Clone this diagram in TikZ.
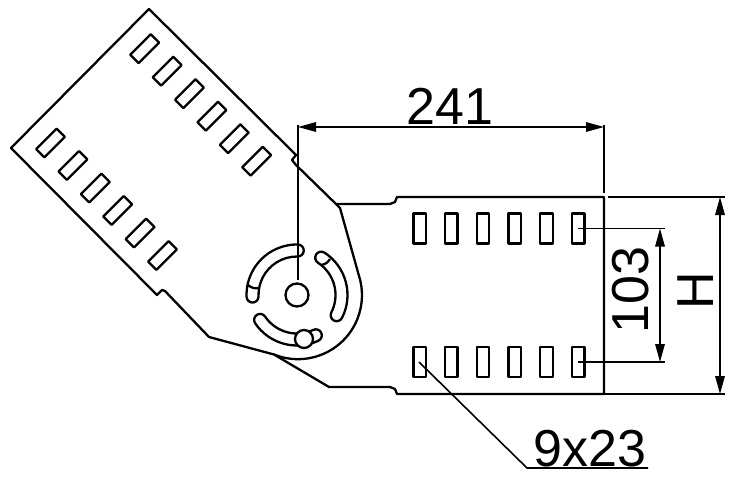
\documentclass[tikz,border=0pt]{standalone}
\usepackage{fontspec}
\setmainfont{Liberation Sans}
\usetikzlibrary{
    calc,
    arrows.meta
}
\tikzset{
    outline/.style={line width=2.3pt,line join=round},
    dimline/.style={line width=1.6pt},
    dimarrow/.style={dimline,{Triangle[length=18pt,width=9.5pt]}-{Triangle[length=18pt,width=9.5pt]}},
    dimtext/.style={font=\fontsize{52}{52}\selectfont,inner sep=0pt}
}
\newcommand{\arcslot}[2]{%
    \draw[outline] ($(hub)+(#1:50.5)$) arc (#1:#2:50.5) arc (#2:#2+180:6) arc (#2:#1:38.5) arc (#1+180:#1+360:6) -- cycle;}

\begin{document}
\begin{tikzpicture}[x=1pt,y=1pt]
        \useasboundingbox (0,0) rectangle (746,-497);
        \coordinate (hub) at (297,-295);

        % swivel plate
        \draw[outline] (149,-9) -- (11,-148) -- (157,-295) -- (162,-290) -- (165,-291) -- (209,-337) -- (274,-354.5)
            arc (248:378:64) -- (340,-208) -- (337,-205) -- (296,-165) -- (292,-160) -- (296,-155) -- cycle;
        \draw[outline] (337,-204) -- (390,-204) -- (395,-202) -- (397,-197) -- (604,-197) -- (604,-394)
            -- (397,-394) -- (395,-389) -- (390,-387) -- (329,-387) -- (274,-354.5);

        % slots
        \foreach \i in {0,...,5} {
            \draw[outline,shift={(144.7+22.4*\i,-48.7-22.5*\i)},rotate=-45] (-5.9,-14.5) rectangle (5.9,14.5);
            \draw[outline,shift={(50.5+22.4*\i,-143-22.5*\i)},rotate=-45] (-5.9,-14.5) rectangle (5.9,14.5);
            \draw[outline,shift={(419.7+31.7*\i,-228.5)}] (-6.2,-15) rectangle (6.2,15);
            \draw[outline,shift={(419.7+31.7*\i,-362)}] (-6.2,-15) rectangle (6.2,15);
        }

        \arcslot{89}{182}
        \arcslot{-27}{57}
        \arcslot{214}{295}
        \draw[outline] (248,-285) to[bend right=25] (259,-288);
        \draw[outline] (321,-265) to[bend right=25] (330,-259);

        \draw[outline] (hub) circle (11.5);
        \draw[outline,fill=white] (304,-339) circle (9);

        % dimensions
        \coordinate (wl) at (298,-125);
        \coordinate (wr) at (604,-125);
        \draw[dimline] (wl) -- (298,-280);
        \draw[dimline] (wr) -- (604,-193);
        \draw[dimarrow] (298,-127) -- (604,-127);
        \node[dimtext] (wlabel) at (450,-106) {241};

        \draw[dimline] (608,-197) -- (725,-197);
        \draw[dimline] (604,-394) -- (725,-394);
        \draw[dimarrow] (720,-197) -- (720,-394);
        \node[dimtext,rotate=90] (hlabel) at (696,-291) {H};

        \draw[dimline] (578,-228.5) -- (665,-228.5);
        \draw[dimline] (578,-362) -- (665,-362);
        \draw[dimarrow] (660,-228.5) -- (660,-362);
        \node[dimtext,rotate=90] (slabel) at (631,-290) {103};

        \node[dimtext] (nlabel) at (590,-449) {9x23};
        \draw[dimline] (419,-362) -- (527,-468) -- (648,-468);
    \end{tikzpicture}
\end{document}
